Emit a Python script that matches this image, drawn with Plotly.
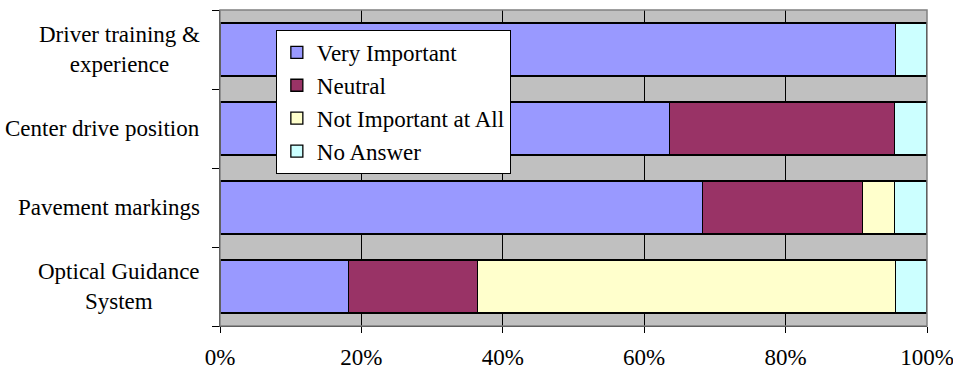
import plotly.graph_objects as go

# Survey responses, share of respondents (%)
categories = [
    "Driver training &<br>experience",
    "Center drive position",
    "Pavement markings",
    "Optical Guidance<br>System",
]
very_important = [95.5, 63.6, 68.2, 18.2]
neutral = [0.0, 31.8, 22.7, 18.2]
not_important = [0.0, 0.0, 4.5, 59.1]
no_answer = [4.5, 4.6, 4.6, 4.5]

series = [
    ("Very Important", very_important, "#9999FF"),
    ("Neutral", neutral, "#993366"),
    ("Not Important at All", not_important, "#FFFFCC"),
    ("No Answer", no_answer, "#CCFFFF"),
]

x_ticks = [0, 20, 40, 60, 80, 100]
x_tick_labels = [f"{v}%" for v in x_ticks]

FONT = "Liberation Serif, Times New Roman, serif"
FS = 23

fig = go.Figure()
for name, vals, color in series:
    fig.add_trace(go.Bar(
        y=list(range(len(categories))),
        x=vals,
        name=name,
        orientation="h",
        marker=dict(color=color, line=dict(color="black", width=1.3)),
        hoverinfo="x+name",
    ))

# Category labels, centered line by line
for i, label in enumerate(categories):
    fig.add_annotation(
        x=0, xref="paper", xshift=-18, xanchor="right",
        y=i, yref="y", yanchor="middle",
        text=label, showarrow=False, align="center",
        font=dict(family=FONT, size=FS, color="black"),
    )

# Plot-area frame
fig.add_shape(type="rect", xref="paper", yref="paper", x0=0, x1=1, y0=0, y1=1,
              line=dict(color="#808080", width=1.5), layer="above")

fig.update_layout(
    width=953, height=371,
    margin=dict(l=220, r=26, t=10, b=45, autoexpand=False),
    paper_bgcolor="white",
    plot_bgcolor="#C0C0C0",
    barmode="stack",
    bargap=0.33,
    font=dict(family=FONT, size=FS, color="black"),
    legend=dict(
        x=0.079, y=0.937, xanchor="left", yanchor="top",
        bgcolor="white", bordercolor="black", borderwidth=1,
        font=dict(family=FONT, size=FS, color="black"),
        traceorder="normal", itemwidth=30,
        tracegroupgap=0,
    ),
    xaxis=dict(
        range=[0, 100], tickvals=x_ticks, ticktext=x_tick_labels,
        showgrid=True, gridcolor="black", gridwidth=1,
        showline=True, linecolor="black", linewidth=1,
        ticks="outside", ticklen=6, tickcolor="black",
        zeroline=False, fixedrange=True, automargin=False,
        ticklabeloverflow="allow", ticklabelstandoff=4,
        tickfont=dict(family=FONT, size=FS),
    ),
    yaxis=dict(
        range=[3.5, -0.5],
        tickvals=[-0.5, 0.5, 1.5, 2.5, 3.5], ticktext=[""] * 5,
        showticklabels=False,
        showgrid=False, zeroline=False,
        showline=True, linecolor="black", linewidth=1,
        ticks="outside", ticklen=7, tickcolor="black",
        fixedrange=True, automargin=False,
    ),
)

fig.write_html("out.html")
